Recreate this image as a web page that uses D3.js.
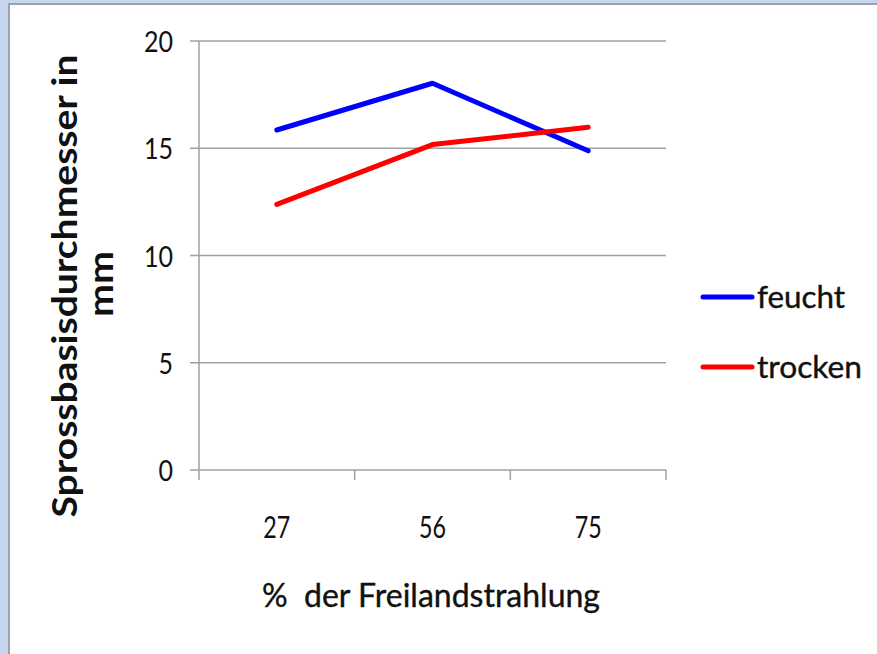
<!DOCTYPE html>
<html>
<head>
	<script src="https://d3js.org/d3.v7.min.js"></script>
	<style>
		body { margin: 0; background: #fff; }
		text { font-family: Lato, "Open Sans", sans-serif; fill: #111; }
	</style>
</head>
<body>
	<div class="chart"></div>
	<script>
		var w = 877, h = 654;
		var categories = ["27", "56", "75"];
		var feucht = [15.85, 18.03, 14.88];
		var trocken = [12.38, 15.17, 15.98];
		var yTicks = [0, 5, 10, 15, 20];
		var series = [
			{name: "feucht", values: feucht, color: "#0000ff", len: 88},
			{name: "trocken", values: trocken, color: "#ff0000", len: 105}
		];

		var pLeft = 199, pRight = 666, pTop = 41, pBottom = 470;

		var svg = d3.select(".chart")
			.append("svg")
			.attr("width", w)
			.attr("height", h);

		// slide frame
		svg.append("rect").attr("x", 0).attr("y", 0).attr("width", w).attr("height", h).attr("fill", "#c6d6ee");
		svg.append("rect").attr("x", 8).attr("y", 3).attr("width", w - 8).attr("height", h - 3).attr("fill", "#9aa3ad");
		svg.append("rect").attr("x", 10).attr("y", 5).attr("width", w - 10).attr("height", h - 5).attr("fill", "#ffffff");

		var x = d3.scaleBand().domain(categories).range([pLeft, pRight]);
		var y = d3.scaleLinear().domain([0, 20]).range([pBottom, pTop]);

		// gridlines
		svg.append("g")
			.selectAll("line")
			.data(yTicks)
			.enter()
			.append("line")
			.attr("x1", pLeft - 9)
			.attr("x2", pRight)
			.attr("y1", function(d) { return y(d); })
			.attr("y2", function(d) { return y(d); })
			.attr("stroke", "#a0a0a0")
			.attr("stroke-width", 1.5);

		// y axis line
		svg.append("line")
			.attr("x1", pLeft).attr("x2", pLeft)
			.attr("y1", pTop).attr("y2", pBottom)
			.attr("stroke", "#a0a0a0").attr("stroke-width", 1.5);

		// x ticks at band edges
		var edges = categories.map(function(c) { return x(c); }).concat([pRight]);
		svg.append("g")
			.selectAll("line")
			.data(edges)
			.enter()
			.append("line")
			.attr("x1", function(d) { return d; })
			.attr("x2", function(d) { return d; })
			.attr("y1", pBottom)
			.attr("y2", pBottom + 10)
			.attr("stroke", "#a0a0a0")
			.attr("stroke-width", 1.5);

		// y tick labels
		svg.append("g")
			.selectAll("text")
			.data(yTicks)
			.enter()
			.append("text")
			.attr("x", 173)
			.attr("y", function(d) { return y(d) + 11; })
			.attr("text-anchor", "end")
			.attr("textLength", function(d) { return String(d).length * 14.5; })
			.attr("lengthAdjust", "spacingAndGlyphs")
			.style("font-size", "29px")
			.text(function(d) { return d; });

		// x tick labels
		svg.append("g")
			.selectAll("text")
			.data(categories)
			.enter()
			.append("text")
			.attr("x", function(d) { return x(d) + x.bandwidth() / 2; })
			.attr("y", 538)
			.attr("text-anchor", "middle")
			.attr("textLength", 27)
			.attr("lengthAdjust", "spacingAndGlyphs")
			.style("font-size", "31px")
			.text(function(d) { return d; });

		// axis titles
		svg.append("text")
			.attr("x", 431)
			.attr("y", 607)
			.attr("text-anchor", "middle")
			.attr("textLength", 338)
			.attr("lengthAdjust", "spacingAndGlyphs")
			.style("font-size", "33px")
			.style("white-space", "pre")
			.style("stroke", "#111")
			.style("stroke-width", 0.4)
			.text("%  der Freilandstrahlung");

		var yt = svg.append("g")
			.attr("transform", "translate(0,286) rotate(-90)");
		yt.append("text")
			.attr("x", 0).attr("y", 77)
			.attr("text-anchor", "middle")
			.attr("textLength", 463)
			.attr("lengthAdjust", "spacingAndGlyphs")
			.style("font-size", "34px")
			.style("font-weight", "bold")
			.text("Sprossbasisdurchmesser in");
		yt.append("text")
			.attr("x", 2).attr("y", 113)
			.attr("text-anchor", "middle")
			.attr("textLength", 66)
			.attr("lengthAdjust", "spacingAndGlyphs")
			.style("font-size", "34px")
			.style("font-weight", "bold")
			.text("mm");

		// lines
		var line = d3.line()
			.x(function(d, i) { return x(categories[i]) + x.bandwidth() / 2; })
			.y(function(d) { return y(d); });

		svg.append("g")
			.selectAll("path")
			.data(series)
			.enter()
			.append("path")
			.attr("d", function(d) { return line(d.values); })
			.attr("fill", "none")
			.attr("stroke", function(d) { return d.color; })
			.attr("stroke-width", 5)
			.attr("stroke-linejoin", "round")
			.attr("stroke-linecap", "round");

		// legend
		var lg = svg.append("g")
			.selectAll("g")
			.data(series)
			.enter()
			.append("g")
			.attr("transform", function(d, i) { return "translate(703," + (297 + i * 70) + ")"; });
		lg.append("line")
			.attr("x1", 0).attr("x2", 49)
			.attr("y1", 0).attr("y2", 0)
			.attr("stroke", function(d) { return d.color; })
			.attr("stroke-width", 5)
			.attr("stroke-linecap", "round");
		lg.append("text")
			.attr("x", 54)
			.attr("y", 11)
			.attr("textLength", function(d) { return d.len; })
			.attr("lengthAdjust", "spacingAndGlyphs")
			.style("font-size", "31px")
			.style("stroke", "#111")
			.style("stroke-width", 0.4)
			.text(function(d) { return d.name; });
	</script>
</body>
</html>
